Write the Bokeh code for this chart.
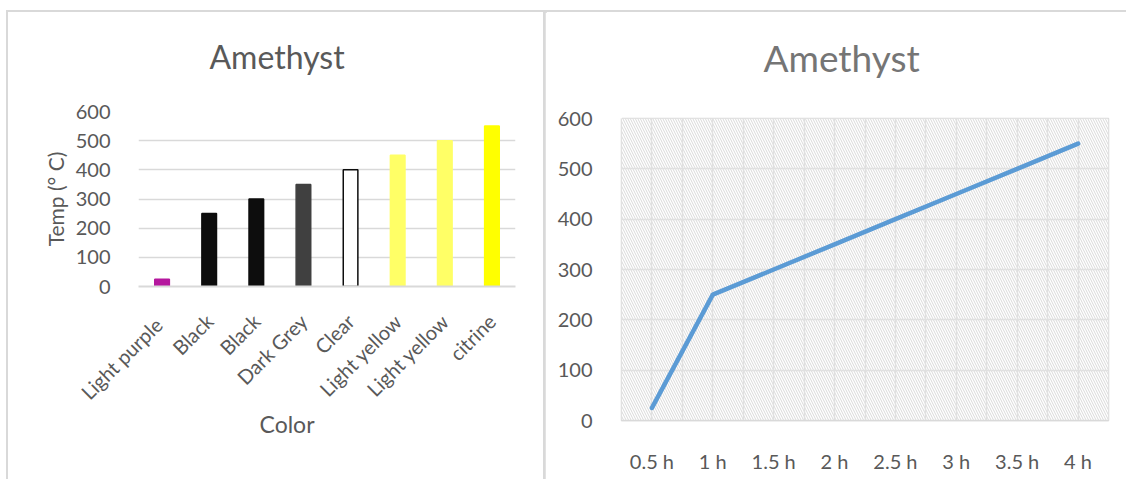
from math import pi

from bokeh.plotting import figure
from bokeh.layouts import row
from bokeh.models import (Range1d, FixedTicker, Title, BoxAnnotation, ColumnDataSource,
                          LinearAxis)
from bokeh.embed import file_html
from bokeh.resources import INLINE

FONT = "Lato"
TEXT_GREY = "#595959"
GRID_GREY = "#d9d9d9"

# Colour of the stone at each heating step
colors = ["Light  purple", "Black", "Black", "Dark Grey", "Clear",
          "Light yellow", "Light yellow", "citrine"]
temps = [25, 250, 300, 350, 400, 450, 500, 550]
bar_fill = ["#b5179e", "#0d0d0d", "#0d0d0d", "#404040", "#ffffff",
            "#ffff66", "#ffff66", "#ffff00"]
bar_line = ["#b5179e", "#0d0d0d", "#0d0d0d", "#404040", "#0d0d0d",
            "#ffff66", "#ffff66", "#ffff00"]

# Temperature reached against heating time
times = ["0.5 h", "1 h", "1.5 h", "2 h", "2.5 h", "3 h", "3.5 h", "4 h"]
time_temps = [25, 250, 300, 350, 400, 450, 500, 550]

y_ticks = [0, 100, 200, 300, 400, 500, 600]


def style_axis(axis, ticks, standoff):
    axis.ticker = FixedTicker(ticks=ticks)
    axis.major_tick_line_color = None
    axis.minor_tick_line_color = None
    axis.major_label_standoff = standoff
    axis.major_label_text_font = FONT
    axis.major_label_text_font_size = "20px"
    axis.major_label_text_color = TEXT_GREY


def title_gap(p, size):
    """Blank axis above the frame that pushes the title upwards."""
    gap = LinearAxis(ticker=FixedTicker(ticks=[0]), major_label_overrides={0: ""},
                     axis_line_color=None, major_tick_line_color="white",
                     minor_tick_line_color=None, major_tick_out=size, minor_tick_out=0,
                     major_tick_in=0, minor_tick_in=0, major_label_standoff=0)
    p.add_layout(gap, "above")


# ---------------------------------------------------------------- bar chart
bar_x = [i + 0.5 for i in range(len(colors))]
bar_src = ColumnDataSource(dict(x=bar_x, top=temps, fill=bar_fill, line=bar_line))

p1 = figure(width=537, height=467, x_range=Range1d(0, len(colors)), y_range=Range1d(0, 600),
            output_backend="svg", toolbar_location=None,
            min_border_left=130, min_border_right=30, min_border_top=99, min_border_bottom=193)
p1.frame_align = False
p1.margin = (12, 0, 0, 8)
p1.styles = {"outline": "2px solid #d9d9d9"}
p1.outline_line_color = None
p1.background_fill_color = "white"
p1.border_fill_color = "white"

p1.title.text = "Amethyst"
p1.title.align = "left"
p1.title.offset = 71
p1.title.vertical_align = "top"
p1.title.standoff = 10
p1.title.text_font = FONT
p1.title.text_font_size = "32px"
p1.title.text_font_style = "normal"
p1.title.text_color = TEXT_GREY

p1.vbar(x="x", top="top", bottom=0, width=0.31, fill_color="fill", line_color="line",
        line_width=1.5, source=bar_src)

p1.xgrid.visible = False
p1.ygrid.ticker = FixedTicker(ticks=y_ticks)
p1.ygrid.grid_line_color = GRID_GREY
p1.ygrid.grid_line_width = 1.5

ax1y = p1.left[0]
style_axis(ax1y, y_ticks, 22)
ax1y.axis_line_color = None
ax1y.axis_label = "Temp (° C)"
ax1y.axis_label_text_font = FONT
ax1y.axis_label_text_font_size = "21px"
ax1y.axis_label_text_font_style = "normal"
ax1y.axis_label_text_color = TEXT_GREY
ax1y.axis_label_standoff = 5

ax1x = p1.below[0]
style_axis(ax1x, bar_x, 25)
ax1x.major_label_overrides = {x: c for x, c in zip(bar_x, colors)}
ax1x.major_label_orientation = pi / 4
ax1x.axis_line_color = GRID_GREY
ax1x.axis_line_width = 2

p1.add_layout(Title(text="Color", align="left", offset=121, vertical_align="top",
                    standoff=-12, text_font=FONT, text_font_size="23px",
                    text_font_style="normal", text_color=TEXT_GREY), "below")
title_gap(p1, 29)

# --------------------------------------------------------------- line chart
line_x = [i + 0.5 for i in range(len(times))]

p2 = figure(width=581, height=467, x_range=Range1d(0, len(times)), y_range=Range1d(0, 600),
            output_backend="svg", toolbar_location=None,
            min_border_left=76, min_border_right=18, min_border_top=106, min_border_bottom=59)
p2.frame_align = False
p2.margin = (12, 0, 0, 0)
p2.styles = {"outline": "2px solid #d9d9d9"}
p2.outline_line_color = GRID_GREY
p2.outline_line_width = 1.5
p2.background_fill_color = "white"
p2.border_fill_color = "white"

p2.title.text = "Amethyst"
p2.title.align = "left"
p2.title.offset = 142
p2.title.vertical_align = "top"
p2.title.standoff = 10
p2.title.text_font = FONT
p2.title.text_font_size = "37px"
p2.title.text_font_style = "normal"
p2.title.text_color = "#757575"

# hatched plot area
p2.add_layout(BoxAnnotation(fill_color="white", fill_alpha=1, line_color=None,
                            hatch_pattern="\\", hatch_color="#d9d9d9", hatch_scale=5,
                            hatch_weight=1, level="image"))

p2.xgrid.ticker = FixedTicker(ticks=[k * 0.5 for k in range(2 * len(times) + 1)])
p2.xgrid.grid_line_color = "#e0e0e0"
p2.xgrid.grid_line_width = 1.5
p2.ygrid.ticker = FixedTicker(ticks=y_ticks)
p2.ygrid.grid_line_color = "#e0e0e0"
p2.ygrid.grid_line_width = 1.5

p2.line(line_x, time_temps, line_color="#5b9bd5", line_width=4.5,
        line_join="round", line_cap="round")

ax2y = p2.left[0]
style_axis(ax2y, y_ticks, 23)
ax2y.axis_line_color = None

ax2x = p2.below[0]
style_axis(ax2x, line_x, 22)
ax2x.major_label_overrides = {x: t for x, t in zip(line_x, times)}
ax2x.axis_line_color = GRID_GREY
ax2x.axis_line_width = 1.5

title_gap(p2, 32)

layout = row(p1, p2)
open("out.html", "w").write(file_html(layout, INLINE))
